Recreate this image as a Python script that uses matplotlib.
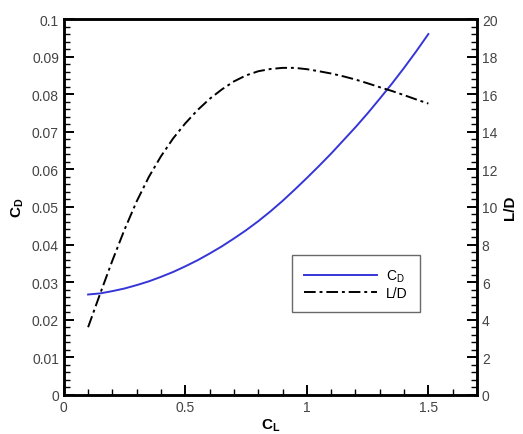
import matplotlib.pyplot as plt
from matplotlib.ticker import MultipleLocator

plt.rcParams['font.family'] = ['Liberation Sans', 'DejaVu Sans']

# lift coefficient
cl = [0.1, 0.15, 0.2, 0.25, 0.3, 0.35, 0.4, 0.45, 0.5, 0.55, 0.6, 0.65, 0.7, 0.75,
      0.8, 0.85, 0.9, 0.95, 1.0, 1.05, 1.1, 1.15, 1.2, 1.25, 1.3, 1.35, 1.4, 1.45, 1.5]
# drag coefficient
cd = [0.0267, 0.0270, 0.0276, 0.0283, 0.0292, 0.0302, 0.0314, 0.0327, 0.0342,
      0.0358, 0.0376, 0.0395, 0.0416, 0.0438, 0.0462, 0.0488, 0.0516, 0.0546,
      0.0577, 0.0609, 0.0642, 0.0677, 0.0712, 0.0749, 0.0788, 0.0828, 0.0870,
      0.0914, 0.0960]
# lift to drag ratio
ld = [3.6, 5.4, 7.15, 8.8, 10.3, 11.6, 12.7, 13.65, 14.45, 15.15, 15.75, 16.25,
      16.68, 17.0, 17.22, 17.34, 17.4, 17.4, 17.33, 17.22, 17.1, 16.95, 16.78,
      16.58, 16.37, 16.17, 15.95, 15.72, 15.5]

fig = plt.figure(figsize=(5.23, 4.35), dpi=100)
ax = fig.add_axes([0.122, 0.090, 0.790, 0.864])
ax2 = ax.twinx()

l1, = ax.plot(cl, cd, color='#3535d8', lw=1.4, label='C$_\\mathregular{D}$')
l2, = ax2.plot(cl, ld, color='black', lw=1.4, linestyle=(0, (6, 2, 1.5, 2)), label='L/D')

ax.set_xlim(0, 1.7)
ax.set_ylim(0, 0.1)
ax2.set_ylim(0, 20)

ax.xaxis.set_major_locator(MultipleLocator(0.5))
ax.xaxis.set_minor_locator(MultipleLocator(0.1))
ax.yaxis.set_major_locator(MultipleLocator(0.01))
ax.yaxis.set_minor_locator(MultipleLocator(0.002))
ax2.yaxis.set_major_locator(MultipleLocator(2))
ax2.yaxis.set_minor_locator(MultipleLocator(0.4))

ax.set_xticks([0, 0.5, 1, 1.5])
ax.set_xticklabels(['0', '0.5', '1', '1.5'])
ax.set_yticks([i * 0.01 for i in range(11)])
ax.set_yticklabels(['0'] + ['%.2f' % (i * 0.01) for i in range(1, 10)] + ['0.1'])

for a in (ax, ax2):
    for s in a.spines.values():
        s.set_linewidth(1.8)
    a.tick_params(which='major', direction='in', length=7, width=1.4,
                  labelsize=10, labelcolor='#444444')
    a.tick_params(which='minor', direction='in', length=4, width=1.0)
ax.tick_params(axis='y', which='both', right=False)
ax.tick_params(axis='x', which='both', top=False)
ax2.tick_params(axis='x', which='both', top=False, bottom=False)

ax.set_xlabel('C$_\\mathregular{L}$', fontsize=11, fontweight='bold', labelpad=2)
ax.set_ylabel('C$_\\mathregular{D}$', fontsize=11, fontweight='bold', labelpad=4)
ax2.set_ylabel('L/D', fontsize=11, fontweight='bold', labelpad=4)

leg = ax.legend(handles=[l1, l2], loc='lower left', bbox_to_anchor=(0.552, 0.22),
                borderaxespad=0, fancybox=False, edgecolor='#444444',
                handlelength=5.2, fontsize=10, labelspacing=0.1,
                borderpad=0.9, handletextpad=0.7)
leg.get_frame().set_linewidth(1.0)

fig.savefig('out.png', dpi=100)
